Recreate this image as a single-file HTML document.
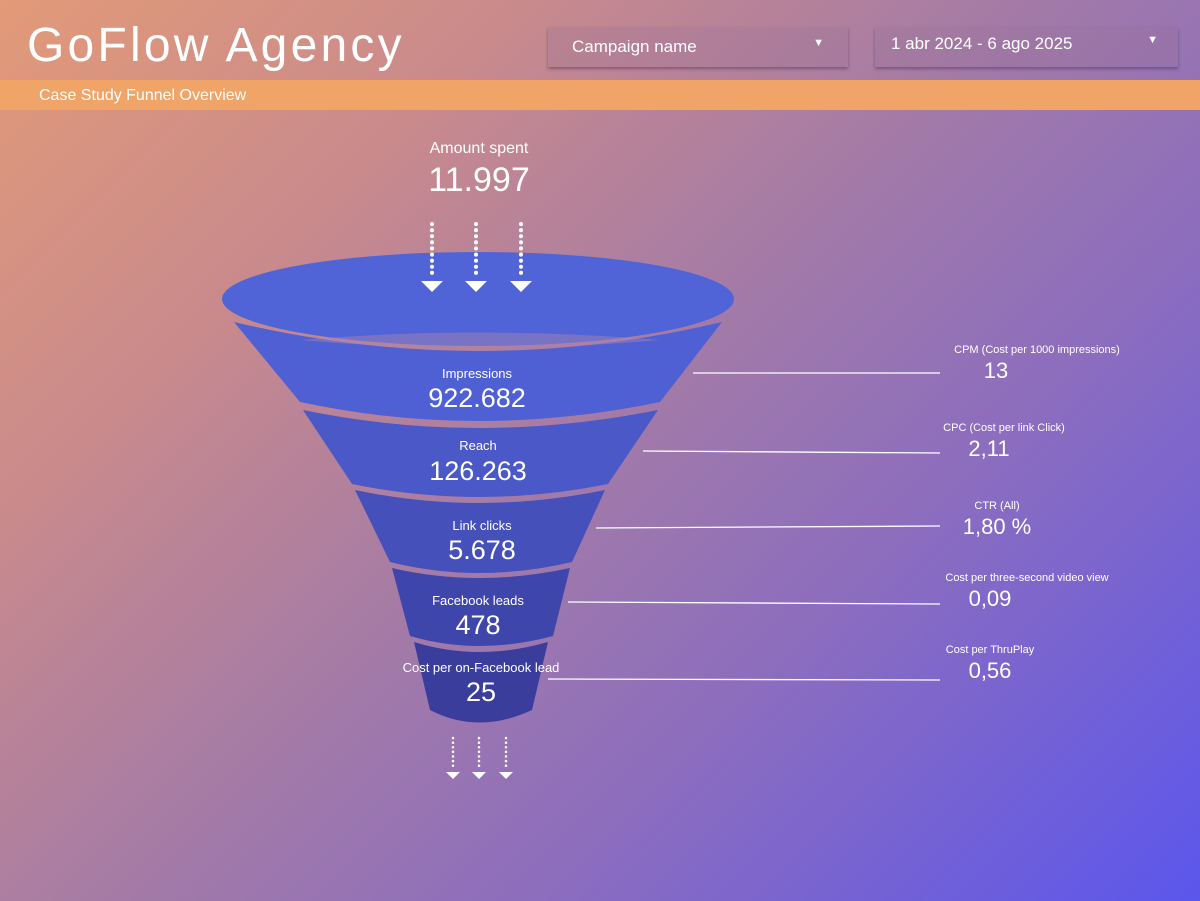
<!DOCTYPE html>
<html><head><meta charset="utf-8"><style>
body{margin:0;width:1200px;height:901px;overflow:hidden;font-family:"Liberation Sans",sans-serif;}
#bg{position:absolute;left:0;top:0;width:1200px;height:901px;background:linear-gradient(135deg,#e29a78 0%,#c98a8c 25%,#a27aa8 50%,#8a6cc0 70%,#5b56ec 100%);}
.t{position:absolute;color:#fff;white-space:nowrap;}
.dd{position:absolute;top:27px;height:40px;background:rgba(150,110,150,0.25);box-shadow:0 2px 3px rgba(60,40,80,0.45);color:#fff;font-size:17px;}
</style></head><body>
<div id="bg"></div>
<div style="position:absolute;left:0;top:80px;width:1200px;height:30px;background:#f0a468;"></div>
<div class="t" style="left:27px;top:18px;font-size:48px;font-weight:300;letter-spacing:3.2px">GoFlow Agency</div>
<div class="t" style="left:39px;top:87px;font-size:16px">Case Study Funnel Overview</div>
<div class="dd" style="left:548px;width:300px"><span style="position:absolute;left:24px;top:10px">Campaign name</span><span style="position:absolute;right:24px;top:10px;font-size:11px">▼</span></div>
<div class="dd" style="left:875px;width:303px"><span style="position:absolute;left:16px;top:7px">1 abr 2024 - 6 ago 2025</span><span style="position:absolute;right:20px;top:7px;font-size:11px">▼</span></div>
<svg style="position:absolute;left:0;top:0" width="1200" height="901">
<g>
<path d="M234,322 Q478,380 722,322 L660,402 Q478,440 300,402 Z" fill="#4f60d4"/>
<path d="M303,410 Q478,446 658,410 L608,484 Q478,510 352,484 Z" fill="#4a58c8"/>
<path d="M355,490 Q478,516 605,490 L572,562 Q478,584 390,562 Z" fill="#4550bb"/>
<path d="M392,568 Q478,588 570,568 L553,636 Q478,656 410,636 Z" fill="#3f46ab"/>
<path d="M414,642 Q478,662 548,642 L532,710 Q478,735 430,710 Z" fill="#3a3d9c"/>
</g>
<ellipse cx="478" cy="299" rx="256" ry="47" fill="#5064d8"/>
<path d="M300,340 Q478,325 660,340 Q478,356 300,340Z" fill="#a886b0" opacity="0.45"/>
<g stroke="#fff" stroke-width="1.3"><line x1="693" y1="373" x2="940" y2="373"/><line x1="643" y1="451" x2="940" y2="453"/><line x1="596" y1="528" x2="940" y2="526"/><line x1="568" y1="602" x2="940" y2="604"/><line x1="548" y1="679" x2="940" y2="680"/></g>
<g fill="#fff">
<g stroke="#fff" stroke-width="4" stroke-dasharray="0.1 6" stroke-linecap="round"><line x1="432" y1="224" x2="432" y2="276"/><line x1="476" y1="224" x2="476" y2="276"/><line x1="521" y1="224" x2="521" y2="276"/></g>
<path d="M421,281h22l-11,11z M465,281h22l-11,11z M510,281h22l-11,11z"/>
<g stroke="#fff" stroke-width="2.5" stroke-dasharray="0.1 4.5" stroke-linecap="round"><line x1="453" y1="738" x2="453" y2="768"/><line x1="479" y1="738" x2="479" y2="768"/><line x1="506" y1="738" x2="506" y2="768"/></g>
<path d="M446,772h14l-7,7z M472,772h14l-7,7z M499,772h14l-7,7z"/>
</g>
<g fill="#fff" text-anchor="middle" font-family="Liberation Sans, sans-serif">
<text x="479" y="153" font-size="16">Amount spent</text><text x="479" y="191" font-size="34">11.997</text>
<text x="477" y="378" font-size="13">Impressions</text><text x="477" y="407" font-size="27">922.682</text>
<text x="478" y="450" font-size="13">Reach</text><text x="478" y="480" font-size="27">126.263</text>
<text x="482" y="530" font-size="13">Link clicks</text><text x="482" y="559" font-size="27">5.678</text>
<text x="478" y="605" font-size="13">Facebook leads</text><text x="478" y="634" font-size="27">478</text>
<text x="481" y="672" font-size="13">Cost per on-Facebook lead</text><text x="481" y="701" font-size="27">25</text>
<text x="1037" y="353" font-size="11">CPM (Cost per 1000 impressions)</text><text x="996" y="378" font-size="22">13</text>
<text x="1004" y="431" font-size="11">CPC (Cost per link Click)</text><text x="989" y="456" font-size="22">2,11</text>
<text x="997" y="509" font-size="11">CTR (All)</text><text x="997" y="534" font-size="22">1,80 %</text>
<text x="1027" y="581" font-size="11">Cost per three-second video view</text><text x="990" y="606" font-size="22">0,09</text>
<text x="990" y="653" font-size="11">Cost per ThruPlay</text><text x="990" y="678" font-size="22">0,56</text>
</g>
</svg>
</body></html>
